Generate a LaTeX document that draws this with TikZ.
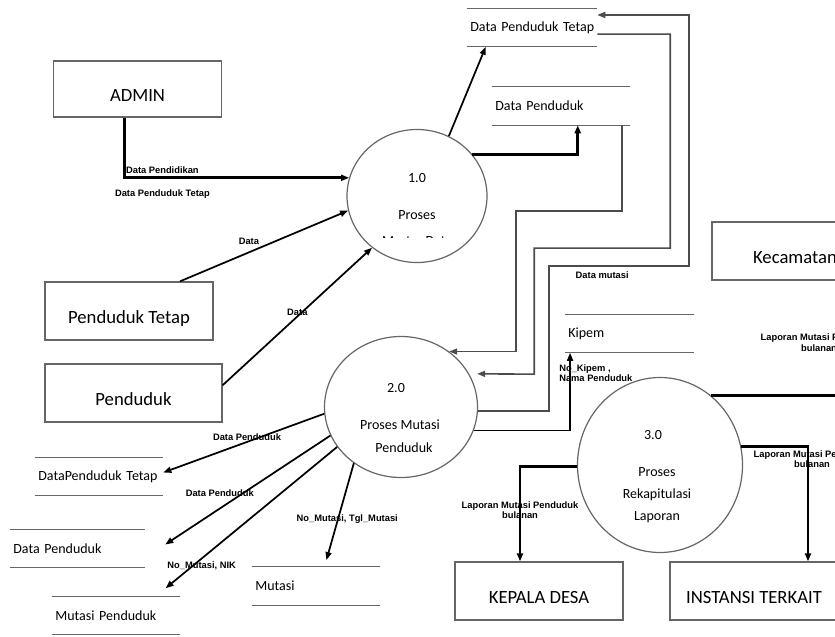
\documentclass[tikz,border=0pt]{standalone}
\usepackage{fontspec}
\setmainfont{Carlito}
\newfontfamily\lblfont{Liberation Sans}
\usetikzlibrary{arrows.meta,shapes.geometric}

\tikzset{
  box/.style={draw=black!60, line width=1pt, minimum width=126pt, minimum height=43.5pt,
    text height=18pt, text depth=0pt, font=\fontsize{14}{16}\selectfont},
  storeline/.style={draw=black!60, line width=1pt},
  store/.style={text width=#1, align=left, inner xsep=2.5pt, minimum height=28.5pt,
    font=\fontsize{10.5}{12}\selectfont,
    execute at begin node={\hyphenpenalty=10000\exhyphenpenalty=10000},
    append after command={(\tikzlastnode.north west) edge[storeline] (\tikzlastnode.north east)
      (\tikzlastnode.south west) edge[storeline] (\tikzlastnode.south east)}},
  proc/.style={ellipse, draw=black!60, line width=0.9pt, inner sep=0pt},
  ptext/.style={font=\fontsize{10.5}{12}\selectfont, inner sep=1pt},
  flow/.style={->, line width=1.3pt},
  bigflow/.style={->, line width=2pt},
  grayflow/.style={->, draw=black!70, line width=1.2pt},
  lbl/.style={font=\lblfont\bfseries\fontsize{7}{8}\selectfont, align=center, inner sep=1pt}
}

\begin{document}
\begin{tikzpicture}[x=0.75pt, y=-0.75pt, >={Triangle[length=6pt,width=4.5pt]}]
    \useasboundingbox (0,0) rectangle (835,636);
    \clip (0,0) rectangle (835,636);

    \node[box, minimum height=42pt] (admin) at (137.5,89) {ADMIN};
    \node[box] (pt) at (129,311) {Penduduk Tetap};
    \node[box, minimum width=132.75pt] (pd) at (133.5,393) {Penduduk};
    \node[box, minimum width=124.5pt] (kec) at (795,251) {Kecamatan};
    \node[box] (kd) at (539,591) {KEPALA DESA};
    \node[box] (inst) at (754,591) {INSTANSI TERKAIT};

    \node[proc, minimum width=105pt, minimum height=99.75pt] (p1) at (417,196) {};
    \node[proc, minimum width=114.75pt, minimum height=105.75pt] (p2) at (401,407) {};
    \node[proc, minimum width=123.75pt, minimum height=131.25pt] (p3) at (660,465) {};

    \node[ptext] (p1num) at (417,178) {1.0};
    \node[ptext] (p1name) at (417,215) {Proses};
    \begin{scope}
        \clip (340,100) rectangle (490,237.5);
        \node[ptext] (p1more) at (417,241) {Master Data};
    \end{scope}
    \node[ptext] (p2num) at (396,388) {2.0};
    \node[ptext] (p2name) at (400,425) {Proses Mutasi};
    \begin{scope}
        \clip (320,430) rectangle (480,452);
        \node[ptext] (p2more) at (404,448) {Penduduk};
    \end{scope}
    \node[ptext] (p3num) at (653,435) {3.0};
    \node[ptext] (p3name) at (657,472) {Proses};
    \node[ptext] (p3rek) at (657,495) {Rekapitulasi};
    \begin{scope}
        \clip (590,505) rectangle (730,522);
        \node[ptext] (p3more) at (657,517) {Laporan};
    \end{scope}

    \node[store=92.5pt] (s1) at (532,27.5) {Data~Penduduk~Tetap};
    \node[store=98.5pt] (s2) at (561,106) {Data~Penduduk};
    \node[store=91.75pt] (s3) at (629.5,333.5) {Kipem};
    \node[store=91pt] (s4) at (99,476.5) {DataPenduduk~Tetap};
    \node[store=96.25pt] (s5) at (77.5,548.5) {Data~Penduduk};
    \node[store=91pt] (s6) at (116,615.5) {Mutasi~Penduduk};
    \node[store=91pt] (s7) at (316,586) {Mutasi};

    \draw[bigflow] ([xshift=-10pt]admin.south) |- node[lbl, pos=0.585, above=1pt] (lpendidikan) {Data Pendidikan}
        node[lbl, pos=0.585, below=7pt] (ltetap) {Data Penduduk Tetap} (p1.165);
    \draw[flow] ([xshift=38.25pt]pt.north) -- node[lbl, pos=0.41, above=4pt] (ldata1) {Data} (p1.192);
    \draw[flow] (pd.5) -- node[lbl, midway, above=-1pt] (ldata2) {Data} (p1.229);
    \draw[flow] (p1.62) -- ([xshift=14.25pt]s1.south west);
    \draw[bigflow] (p1.37) -| ([xshift=64.5pt]s2.south west);

    \draw[grayflow] ([xshift=-6pt]s2.south east) |- ++(-106,86) |- (p2.49);
    \draw[grayflow, shorten >=6pt] ([yshift=-5pt]s1.east) -| ++(73,214) -| ++(-136,126) -- (p2.26);
    \draw[grayflow] (p2.-3) -| ++(71,-145) -| node[lbl, pos=0.19, below=3pt] (lmutasi) {Data mutasi}
        ++(140,-251) -- ([yshift=9.4pt]s1.east);
    \draw[flow] (p2.-18) -| node[lbl, pos=0.87, anchor=west, xshift=-9.75pt, align=left] (lkipem) {No\_Kipem ,\\Nama Penduduk}
        ([xshift=4pt]s3.south west);

    \draw[flow] (p2.185) -- node[lbl, pos=0.48, above=-1pt] (ldp1) {Data Penduduk} ([yshift=3pt]s4.east);
    \draw[flow] (p2.202) -- node[lbl, pos=0.67, above=7pt] (ldp2) {Data Penduduk} ([xshift=15pt,yshift=3pt]s5.east);
    \draw[flow] (p2.212) -- node[lbl, pos=0.79, below=1pt] (lnik) {No\_Mutasi, NIK} ([xshift=-11pt,yshift=6pt]s6.north east);
    \draw[flow] (p2.230) -- node[lbl, pos=0.58, xshift=7pt] (ltgl) {No\_Mutasi, Tgl\_Mutasi} ([xshift=56pt,yshift=5pt]s7.north west);

    \draw[bigflow] (p3.54) -| node[lbl, pos=0.73, xshift=-38pt] (lkec) {Laporan Mutasi Penduduk\\bulanan} ([xshift=56pt]kec.south);
    \draw[bigflow] (p3.13) -| node[lbl, pos=0.5, below=1pt, xshift=3pt] (linst) {Laporan Mutasi Penduduk\\bulanan} ([xshift=40.5pt]inst.north);
    \draw[bigflow] (p3.181) -| node[lbl, pos=0.73] (lkd) {Laporan Mutasi Penduduk\\bulanan} ([xshift=-14.25pt]kd.north);
\end{tikzpicture}
\end{document}
